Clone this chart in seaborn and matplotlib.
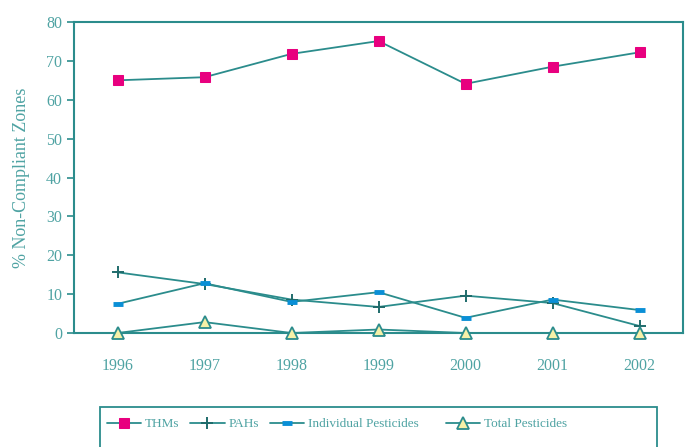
import pandas as pd
import numpy as np
import matplotlib.pyplot as plt
import matplotlib.patches as mpatches
import seaborn as sns

# Daten
years = [1996, 1997, 1998, 1999, 2000, 2001, 2002]
thms = [65.0, 65.8, 71.8, 75.1, 64.1, 68.5, 72.2]
pahs = [15.6, 12.6, 8.6, 6.7, 9.6, 7.7, 1.8]
indivPest = [7.5, 12.8, 8.0, 10.5, 3.9, 8.6, 5.9]
totalPest = [0.0, 2.8, 0.0, 0.9, 0.0, 0.0, 0.0]

lineCol = "#2b8c8c"
textCol = "#4fa3a3"

sns.set_style("white")
plt.rcParams["font.family"] = ["Liberation Serif", "DejaVu Serif"]

fig, ax = plt.subplots(figsize=(6.87, 4.47), dpi=100)
fig.subplots_adjust(left=74/687, right=683/687, top=1-22/447, bottom=1-333/447)

sns.lineplot(x=years, y=thms, ax=ax, color=lineCol, lw=1.3, marker="s", markersize=7,
             markerfacecolor="#e8007f", markeredgecolor="#e8007f", label="THMs")
sns.lineplot(x=years, y=pahs, ax=ax, color=lineCol, lw=1.3, marker="+", markersize=9,
             markeredgewidth=1.4, markeredgecolor="#1f6b6b", label="PAHs")
sns.lineplot(x=years, y=indivPest, ax=ax, color=lineCol, lw=1.3, marker="_", markersize=7,
             markeredgewidth=3.5, markeredgecolor="#0a8fd6", label="Individual Pesticides")
sns.lineplot(x=years, y=totalPest, ax=ax, color=lineCol, lw=1.3, marker="^", markersize=8,
             markerfacecolor="#f6f1a8", markeredgecolor=lineCol, markeredgewidth=1.3,
             label="Total Pesticides")
for ln in ax.lines:
    ln.set_clip_on(False)
    ln.set_zorder(5)

ax.set_xlim(1995.5, 2002.5)
ax.set_ylim(0, 80)
ax.set_xticks(years)
ax.set_xticks(np.arange(1995.5, 2003, 1), minor=True)
ax.set_yticks(range(0, 81, 10))
ax.tick_params(axis="x", which="major", length=0, pad=18, labelsize=11.5, labelcolor=textCol)
ax.tick_params(axis="x", which="minor", length=6, width=1.5, color=lineCol, direction="out")
ax.tick_params(axis="y", length=5, width=1.2, color=lineCol, direction="out", labelsize=11.5,
               labelcolor=textCol, left=True)
for s in ax.spines.values():
    s.set_visible(True)
    s.set_color(lineCol)
    s.set_linewidth(1.5)
ax.set_ylabel("% Non-Compliant Zones", fontsize=13, color=textCol, labelpad=12)
ax.grid(False)

# Legende: Rahmen extra, Eintraege in zwei Gruppen
handles, labels = ax.get_legend_handles_labels()
ax.get_legend().remove()
box = mpatches.Rectangle((100/687, -0.05), 557/687, 0.05 + 1 - 407/447, transform=fig.transFigure,
                         fill=False, edgecolor=lineCol, lw=1.3, clip_on=False)
fig.patches.append(box)
legKw = dict(loc="center left", frameon=False, fontsize=9.5, handlelength=2.6,
             handletextpad=0.3, columnspacing=0.8, borderaxespad=0, borderpad=0,
             labelcolor=textCol)
leg1 = fig.legend(handles[:3], labels[:3], ncol=3, bbox_to_anchor=(107/687, 1-424/447), **legKw)
leg2 = fig.legend(handles[3:], labels[3:], ncol=1, bbox_to_anchor=(446/687, 1-424/447), **legKw)

plt.savefig("out.png", dpi=100)
plt.close("all")
